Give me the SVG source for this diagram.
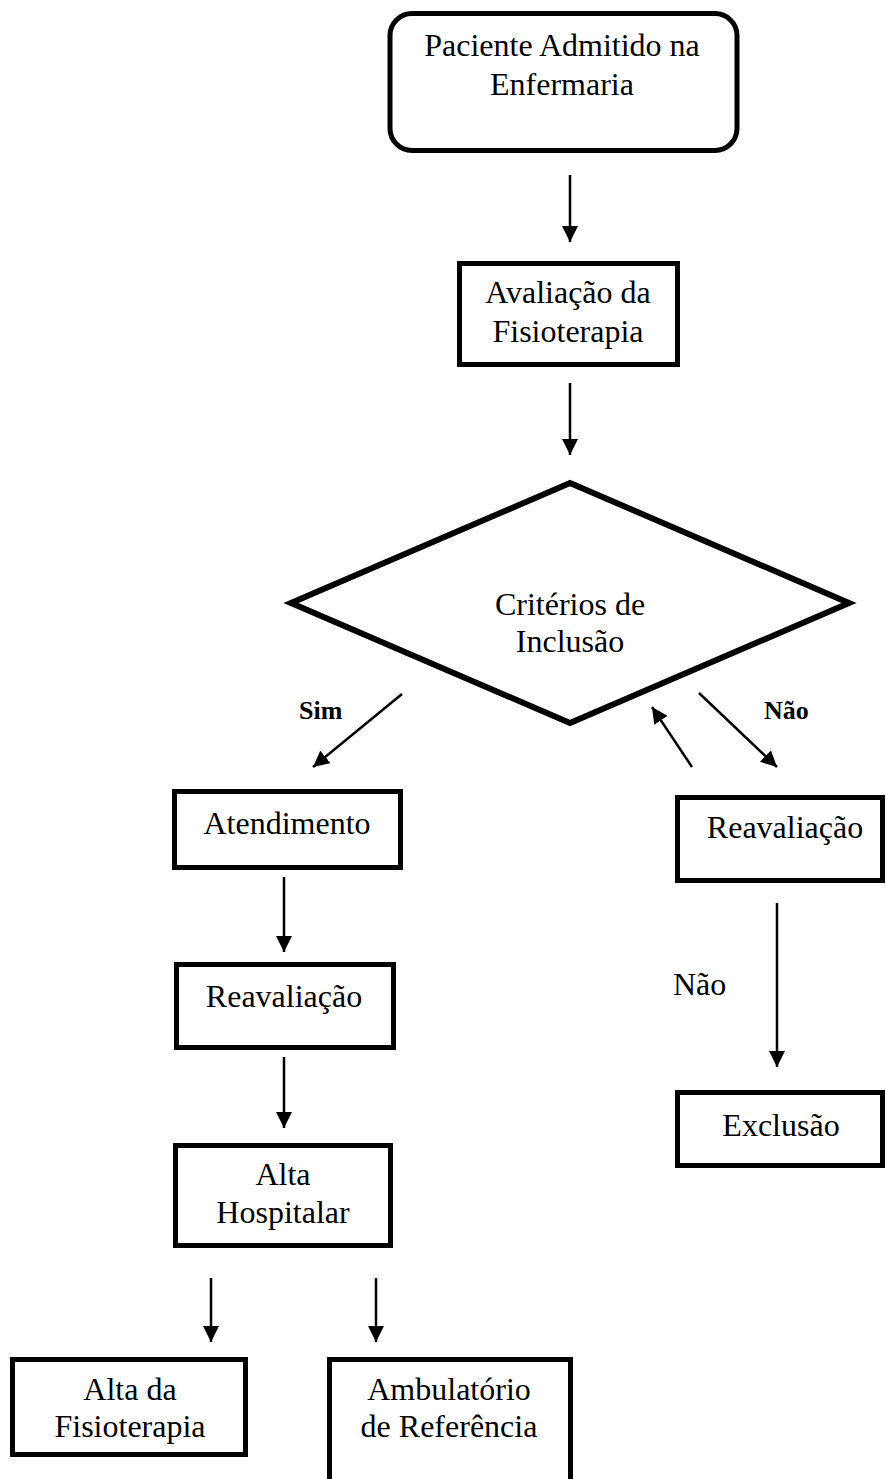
<svg xmlns="http://www.w3.org/2000/svg" width="886" height="1479" viewBox="0 0 886 1479">
<style>
.box{fill:#fff;stroke:#000;stroke-width:5}
.dia{fill:#fff;stroke:#000;stroke-width:6;stroke-linejoin:miter}
.t{font-family:"Liberation Serif","Times New Roman",serif;font-size:32px;fill:#000;text-anchor:middle}
.b{font-family:"Liberation Serif","Times New Roman",serif;font-size:26px;font-weight:bold;fill:#000}
.c{stroke:#000;stroke-width:2.5;fill:none;marker-end:url(#ah)}
</style>
<defs>
<marker id="ah" markerUnits="userSpaceOnUse" markerWidth="16" markerHeight="16" refX="15" refY="7.5" orient="auto" viewBox="0 0 15 15">
<path d="M0,0 L15,7.5 L0,15 z" fill="#000"/>
</marker>
</defs>
<rect width="886" height="1479" fill="#fff"/>
<g id="n-paciente">
<rect class="box" x="390" y="13.5" width="347" height="137" rx="22"/>
<text class="t" x="562" y="56">Paciente Admitido na</text>
<text class="t" x="562" y="95">Enfermaria</text>
</g>
<g id="n-avaliacao">
<rect class="box" x="459.5" y="263.5" width="218" height="101"/>
<text class="t" x="568" y="303">Avaliação da</text>
<text class="t" x="568" y="342">Fisioterapia</text>
</g>
<g id="n-criterios">
<polygon class="dia" points="570,483 849,603 570,723 291,603"/>
<text class="t" x="570" y="615">Critérios de</text>
<text class="t" x="570" y="652">Inclusão</text>
</g>
<g id="n-atendimento">
<rect class="box" x="174.5" y="791.5" width="226" height="76"/>
<text class="t" x="287" y="834">Atendimento</text>
</g>
<g id="n-reavaliacao1">
<rect class="box" x="176.5" y="964.5" width="217" height="83"/>
<text class="t" x="284" y="1007">Reavaliação</text>
</g>
<g id="n-altahosp">
<rect class="box" x="175.5" y="1145.5" width="215" height="100"/>
<text class="t" x="283" y="1185">Alta</text>
<text class="t" x="283" y="1223">Hospitalar</text>
</g>
<g id="n-altafisio">
<rect class="box" x="12.5" y="1359.5" width="233" height="95"/>
<text class="t" x="130" y="1400">Alta da</text>
<text class="t" x="130" y="1437">Fisioterapia</text>
</g>
<g id="n-ambulatorio">
<rect class="box" x="329.5" y="1359.5" width="241" height="125"/>
<text class="t" x="449" y="1400">Ambulatório</text>
<text class="t" x="449" y="1437">de Referência</text>
</g>
<g id="n-reavaliacao2">
<rect class="box" x="677.5" y="797.5" width="205" height="83"/>
<text class="t" x="785" y="838">Reavaliação</text>
</g>
<g id="n-exclusao">
<rect class="box" x="677.5" y="1092.5" width="205" height="73"/>
<text class="t" x="781" y="1136">Exclusão</text>
</g>
<g id="connectors">
<line class="c" x1="570" y1="175" x2="570" y2="242"/>
<line class="c" x1="570" y1="383" x2="570" y2="455"/>
<line class="c" x1="402" y1="694" x2="313" y2="767"/>
<line class="c" x1="699" y1="693" x2="777" y2="767"/>
<line class="c" x1="692" y1="767" x2="652" y2="707"/>
<line class="c" x1="284" y1="877" x2="284" y2="952"/>
<line class="c" x1="284" y1="1057" x2="284" y2="1128"/>
<line class="c" x1="777" y1="903" x2="777" y2="1067"/>
<line class="c" x1="211" y1="1278" x2="211" y2="1342"/>
<line class="c" x1="376" y1="1278" x2="376" y2="1342"/>
<text class="b" x="299" y="719">Sim</text>
<text class="b" x="764" y="719">Não</text>
<text class="t" x="673" y="995" style="text-anchor:start">Não</text>
</g>
</svg>
